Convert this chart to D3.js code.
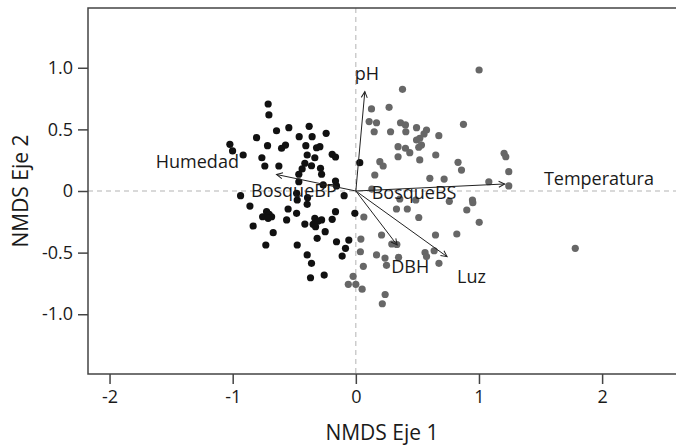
<!DOCTYPE html>
<html>
<head>
<meta charset="utf-8">
<script src="https://cdn.jsdelivr.net/npm/d3@7"></script>
<style>
  body { margin: 0; background: #fff; }
  svg { display: block; font-family: "Open Sans", sans-serif; }
</style>
</head>
<body>
<svg id="chart"></svg>
<script>
// sitios del Bosque BP (negro), NMDS eje 1 / eje 2
const bpX = [-0.712, -0.706, -0.644, -0.544, -0.379, -0.241, -0.806, -0.460, -0.355, -1.023,
  -1.001, -0.915, -0.717, -0.603, -0.571, -0.406, -0.319, -0.292, -0.395, -0.192,
  -0.165, -0.763, -0.333, -0.414, -0.360, -0.739, -0.625, -0.436, -0.287, -0.278,
  -0.463, -0.165, -0.265, -0.463, -0.936, -0.860, -0.476, -0.392, -0.395, -0.095,
  -0.550, -0.481, -0.165, -0.008, -0.757, -0.725, -0.704, -0.684, -0.712, -0.562,
  -0.414, -0.333, -0.347, -0.306, -0.278, -0.192, -0.834, -0.671, -0.249, -0.314,
  -0.731, -0.476, -0.157, -0.057, -0.084, -0.111, -0.395, -0.360, -0.368, -0.257,
  0.032, -0.327, -0.157, -0.481];
const bpY = [0.706, 0.617, 0.489, 0.514, 0.525, 0.468, 0.433, 0.441, 0.441, 0.379,
  0.325, 0.292, 0.368, 0.347, 0.373, 0.368, 0.351, 0.360, 0.292, 0.298,
  0.276, 0.270, 0.270, 0.225, 0.205, 0.203, 0.203, 0.179, 0.184, 0.136,
  0.136, 0.081, 0.049, 0.075, -0.038, -0.122, -0.073, -0.054, -0.108, -0.038,
  -0.146, -0.181, -0.168, -0.181, -0.209, -0.168, -0.189, -0.209, -0.222, -0.235,
  -0.268, -0.222, -0.270, -0.244, -0.235, -0.230, -0.284, -0.338, -0.330, -0.384,
  -0.438, -0.438, -0.412, -0.398, -0.465, -0.528, -0.519, -0.587, -0.704, -0.682,
  0.230, -0.290, 0.041, -0.019];

// sitios del Bosque BS (gris)
const bsX = [1.001, 0.379, 0.127, 0.270, 0.108, 0.168, 0.363, 0.403, 0.149, 0.282,
  0.406, 0.493, 0.574, 0.554, 0.674, 0.493, 0.519, 0.533, 0.511, 0.343,
  0.403, 0.438, 0.343, 0.519, 0.649, 0.195, 0.222, 0.154, 0.830, 0.858,
  0.601, 0.717, 0.874, 1.204, 1.218, 1.242, 1.242, 1.080, 0.947, 0.950,
  0.901, 1.002, 0.759, 0.330, 0.418, 0.511, 0.065, 0.209, 0.292, 0.333,
  0.647, 0.820, 0.041, 0.037, 0.168, 0.237, 0.249, 0.347, 0.562, 0.574,
  0.636, 0.675, 0.061, -0.022, -0.061, 0.000, 0.051, 0.238, 0.215, 1.782,
  0.130, 0.357, 0.487];
const bsY = [0.982, 0.825, 0.666, 0.679, 0.563, 0.554, 0.554, 0.536, 0.481, 0.481,
  0.481, 0.514, 0.495, 0.463, 0.449, 0.414, 0.428, 0.373, 0.355, 0.360,
  0.347, 0.311, 0.278, 0.252, 0.292, 0.238, 0.203, 0.130, 0.233, 0.170,
  0.103, 0.097, 0.541, 0.306, 0.278, 0.157, 0.041, 0.075, -0.073, -0.095,
  -0.154, -0.254, -0.084, -0.146, -0.146, -0.215, -0.211, -0.357, -0.430, -0.434,
  -0.357, -0.349, -0.390, -0.493, -0.519, -0.544, -0.603, -0.538, -0.499, -0.532,
  -0.485, -0.587, -0.611, -0.692, -0.757, -0.757, -0.797, -0.840, -0.915, -0.465,
  0.016, -0.065, -0.073];

// vectores ambientales (envfit)
const vecNames = ["pH", "Humedad", "Temperatura", "DBH", "Luz"];
const vecX = [0.073, -0.644, 1.209, 0.335, 0.741];
const vecY = [0.806, 0.134, 0.057, -0.438, -0.533];
const vecLabX = [0.089, -1.287, 1.974, 0.442, 0.939];
const vecLabY = [0.955, 0.238, 0.100, -0.610, -0.694];

// centroides de los factores
const facNames = ["BosqueBP", "BosqueBS"];
const facX = [-0.503, 0.473];
const facY = [0.006, -0.012];

// marcas de los ejes
const xTicks = [-2, -1, 0, 1, 2];
const xTickLabels = ["-2", "-1", "0", "1", "2"];
const yTicks = [1, 0.5, 0, -0.5, -1];
const yTickLabels = ["1.0", "0.5", "0", "-0.5", "-1.0"];

const width = 676;
const height = 448;
const marginTop = 8;
const marginLeft = 88;
const marginBottom = 74;

const x = d3.scaleLinear()
    .domain([-2.175, 2.6])
    .range([marginLeft, width]);

const y = d3.scaleLinear()
    .domain([-1.485, 1.485])
    .range([height - marginBottom, marginTop]);

const svg = d3.select("#chart")
    .attr("width", width)
    .attr("height", height)
    .attr("viewBox", `0 0 ${width} ${height}`);

svg.append("defs").append("marker")
    .attr("id", "head")
    .attr("markerUnits", "userSpaceOnUse")
    .attr("viewBox", "-8 -5 10 10")
    .attr("markerWidth", 10)
    .attr("markerHeight", 10)
    .attr("orient", "auto")
  .append("path")
    .attr("d", "M-6,-3L0,0L-6,3")
    .attr("fill", "none")
    .attr("stroke", "#222")
    .attr("stroke-width", 1);

// lineas de referencia en 0
svg.append("line")
    .attr("x1", x(0)).attr("x2", x(0))
    .attr("y1", y.range()[1]).attr("y2", y.range()[0])
    .attr("stroke", "#b3b3b3")
    .attr("stroke-dasharray", "5,4");
svg.append("line")
    .attr("x1", x.range()[0]).attr("x2", x.range()[1])
    .attr("y1", y(0)).attr("y2", y(0))
    .attr("stroke", "#b3b3b3")
    .attr("stroke-dasharray", "5,4");

// puntos
svg.append("g")
    .attr("fill", "#111")
  .selectAll("circle")
  .data(d3.range(bpX.length))
  .join("circle")
    .attr("cx", i => x(bpX[i]))
    .attr("cy", i => y(bpY[i]))
    .attr("r", 3.6);

svg.append("g")
    .attr("fill", "#676767")
  .selectAll("circle")
  .data(d3.range(bsX.length))
  .join("circle")
    .attr("cx", i => x(bsX[i]))
    .attr("cy", i => y(bsY[i]))
    .attr("r", 3.6);

// flechas
svg.append("g")
    .attr("stroke", "#222")
    .attr("stroke-width", 1)
  .selectAll("line")
  .data(d3.range(vecNames.length))
  .join("line")
    .attr("x1", x(0))
    .attr("y1", y(0))
    .attr("x2", i => x(vecX[i]))
    .attr("y2", i => y(vecY[i]))
    .attr("marker-end", "url(#head)");

const labels = vecNames.map((n, i) => ({n, x: vecLabX[i], y: vecLabY[i]}))
    .concat(facNames.map((n, i) => ({n, x: facX[i], y: facY[i]})));

svg.append("g")
    .attr("fill", "#1a1a1a")
    .attr("font-size", 18)
    .attr("text-anchor", "middle")
  .selectAll("text")
  .data(labels)
  .join("text")
    .attr("x", d => x(d.x))
    .attr("y", d => y(d.y))
    .attr("dy", "0.36em")
    .text(d => d.n);

// marco (sin borde derecho)
svg.append("path")
    .attr("d", `M${width},${marginTop}H${marginLeft}V${height - marginBottom}H${width}`)
    .attr("fill", "none")
    .attr("stroke", "#444")
    .attr("stroke-width", 1.5);

// ejes
svg.append("g")
    .attr("transform", `translate(0,${height - marginBottom})`)
    .call(d3.axisBottom(x).tickValues(xTicks).tickFormat((d, i) => xTickLabels[i])
      .tickSize(10).tickPadding(6).tickSizeOuter(0))
    .call(g => g.select(".domain").remove())
    .call(g => g.selectAll("line").attr("stroke", "#444").attr("stroke-width", 1.5))
    .call(g => g.selectAll("text").attr("font-size", 18).attr("fill", "#1a1a1a")
      .attr("font-family", "Open Sans, sans-serif"));

svg.append("g")
    .attr("transform", `translate(${marginLeft},0)`)
    .call(d3.axisLeft(y).tickValues(yTicks).tickFormat((d, i) => yTickLabels[i])
      .tickSize(10).tickPadding(5).tickSizeOuter(0))
    .call(g => g.select(".domain").remove())
    .call(g => g.selectAll("line").attr("stroke", "#444").attr("stroke-width", 1.5))
    .call(g => g.selectAll("text").attr("font-size", 18).attr("fill", "#1a1a1a")
      .attr("font-family", "Open Sans, sans-serif"));

// titulos de los ejes
svg.append("text")
    .attr("x", (marginLeft + width) / 2)
    .attr("y", 440)
    .attr("text-anchor", "middle")
    .attr("font-size", 21)
    .attr("fill", "#1a1a1a")
    .text("NMDS Eje 1");

svg.append("text")
    .attr("transform", `translate(28,${(marginTop + height - marginBottom) / 2}) rotate(-90)`)
    .attr("text-anchor", "middle")
    .attr("font-size", 21)
    .attr("fill", "#1a1a1a")
    .text("NMDS Eje 2");
</script>
</body>
</html>
